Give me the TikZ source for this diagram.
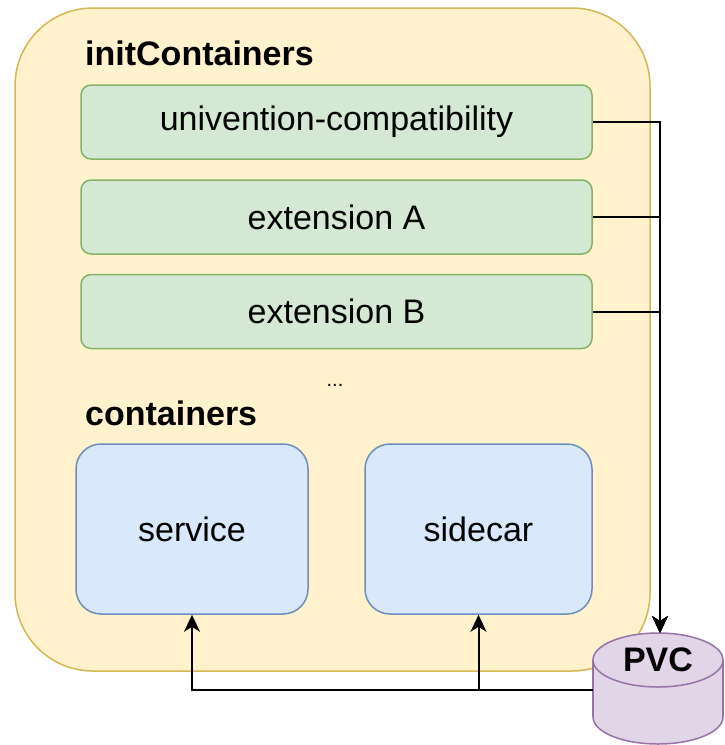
\documentclass[tikz,border=0pt]{standalone}
\usepackage{fontspec}
\setmainfont{Liberation Sans}
\usetikzlibrary{arrows.meta}
\definecolor{podfill}{HTML}{FFF2CC}
\definecolor{poddraw}{HTML}{D6B656}
\definecolor{grfill}{HTML}{D5E8D4}
\definecolor{grdraw}{HTML}{82B366}
\definecolor{blfill}{HTML}{DAE8FC}
\definecolor{bldraw}{HTML}{6C8EBF}
\definecolor{pufill}{HTML}{E1D5E7}
\definecolor{pudraw}{HTML}{9673A6}
\tikzset{
  bigfont/.style={font=\fontsize{34}{40}\selectfont},
  initbox/.style={draw=grdraw, fill=grfill, line width=1.5pt, rounded corners=10pt,
    minimum width=511pt, minimum height=74pt, inner sep=0pt, bigfont},
  contbox/.style={draw=bldraw, fill=blfill, line width=1.5pt, rounded corners=25pt,
    minimum height=170pt, inner sep=0pt, bigfont},
  title/.style={anchor=base west, inner sep=0pt, font=\fontsize{34}{40}\selectfont\bfseries},
  link/.style={line width=2pt, draw=black},
  tip/.style={-{Stealth[length=17pt,width=16pt,inset=5pt]}}
}
\begin{document}
\begin{tikzpicture}[x=1pt,y=-1pt]
\useasboundingbox (0,0) rectangle (724,745);
% pod
\draw[draw=poddraw, fill=podfill, line width=1.5pt, rounded corners=78pt] (15,8) rectangle (650,671);
\node[title] (t1) at (85,65) {initContainers};
\node[initbox] (g1) at (336.5,122) {univention-compatibility};
\node[initbox] (g2) at (336.5,217) {extension A};
\node[initbox] (g3) at (336.5,311.5) {extension B};
\node[anchor=base, inner sep=0pt, font=\fontsize{20}{24}\selectfont] (dots) at (335,386) {...};
\node[title] (t2) at (85,425) {containers};
\node[contbox, minimum width=232pt] (svc) at (192,529) {service};
\node[contbox, minimum width=227pt] (side) at (478.5,529) {sidecar};
% PVC cylinder
\node[minimum width=130pt, minimum height=111pt, inner sep=0pt] (pvc) at (658,688.5) {};
\draw[draw=pudraw, fill=pufill, line width=1.5pt] (658,717) ellipse [x radius=65pt, y radius=27pt];
\fill[pufill] (593,660) rectangle (723,717);
\draw[draw=pudraw, line width=1.5pt] (593,660) -- (593,717) (723,660) -- (723,717);
\draw[draw=pudraw, fill=pufill, line width=1.5pt] (658,660) ellipse [x radius=65pt, y radius=27pt];
\node[inner sep=0pt, font=\fontsize{34}{40}\selectfont\bfseries] (pvclabel) at (658,660) {PVC};
% connectors
\coordinate (pvctop) at (660,633);
\coordinate (pvcleft) at (593,690);
\coordinate (split) at (478.5,690);
\draw[link, tip] (g1.east) -| (pvctop);
\draw[link, tip] (g2.east) -| (pvctop);
\draw[link, tip] (g3.east) -| (pvctop);
\draw[link, tip] (pvcleft) -| (svc.south);
\draw[link, tip] (split) -- (side.south);
\end{tikzpicture}
\end{document}
